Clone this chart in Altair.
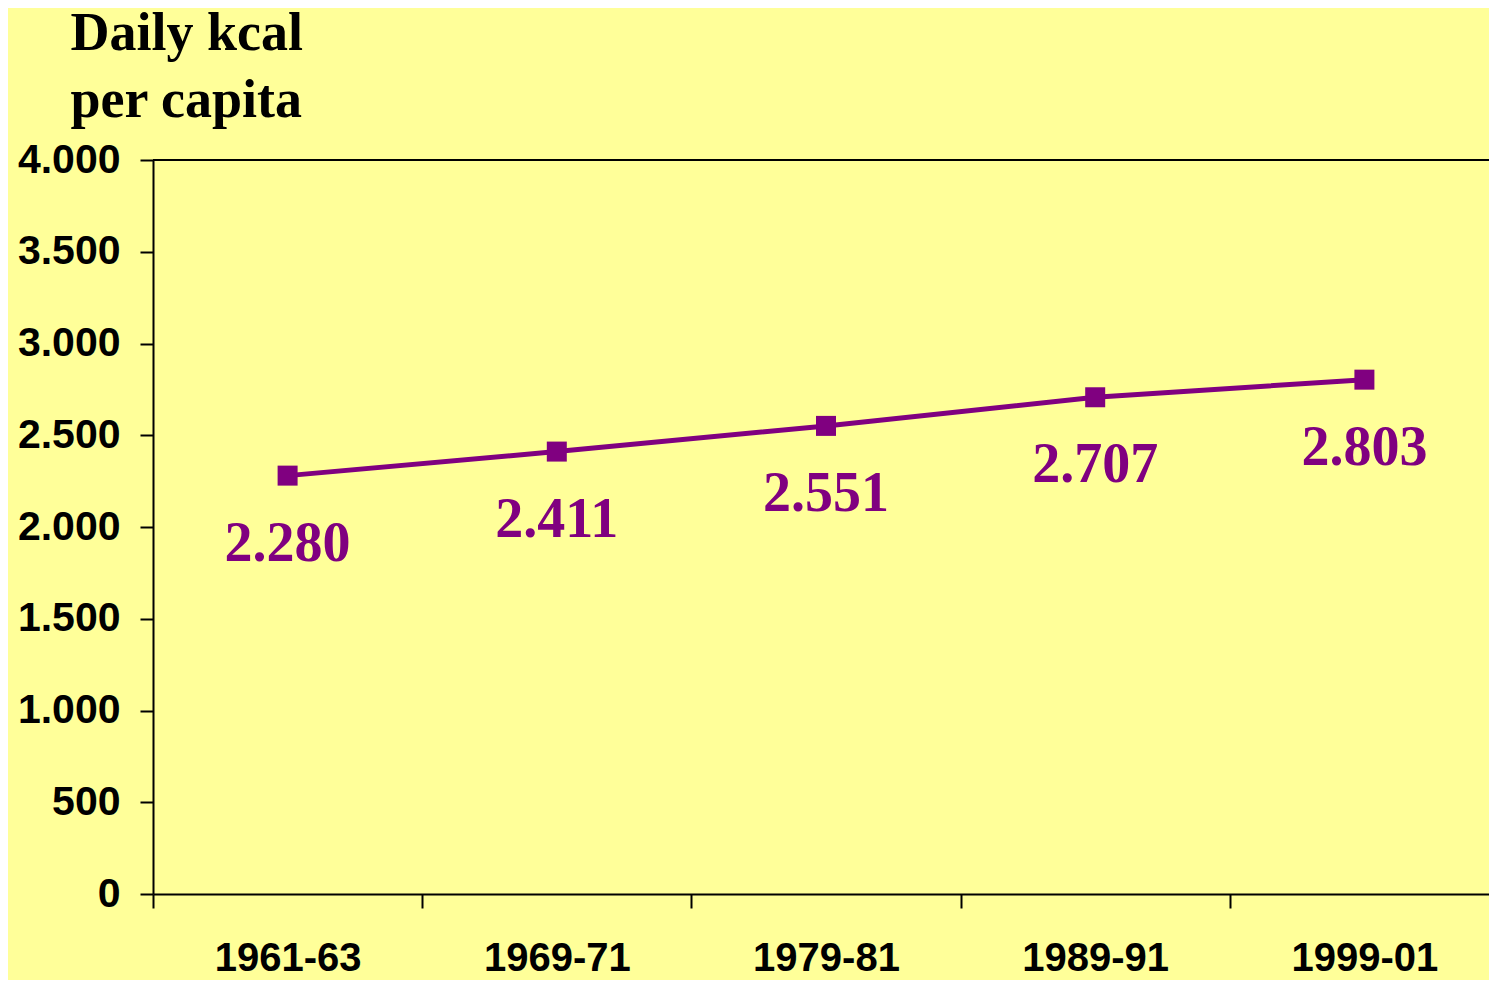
import altair as alt
import pandas as pd

periods = ["1961-63", "1969-71", "1979-81", "1989-91", "1999-01"]
kcal = [2280, 2411, 2551, 2707, 2803]
y_ticks = [0, 500, 1000, 1500, 2000, 2500, 3000, 3500, 4000]

df = pd.DataFrame({
    "period": periods,
    "kcal": kcal,
    "label": [f"{v:,}".replace(",", ".") for v in kcal],
})

purple = "#800080"
bg = "#FFFF99"

x_enc = alt.X(
    "period:N",
    sort=periods,
    scale=alt.Scale(paddingInner=0, paddingOuter=0, range=[0, 1346]),
    axis=alt.Axis(
        title=None,
        labelAngle=0,
        labelFont="Liberation Sans",
        labelFontWeight="bold",
        labelFontSize=40,
        labelColor="black",
        labelPadding=30,
        tickBand="extent",
        tickSize=14,
        tickWidth=2,
        tickColor="black",
        domainColor="black",
        domainWidth=2,
    ),
)

y_enc = alt.Y(
    "kcal:Q",
    scale=alt.Scale(domain=[0, 4000], nice=False, zero=True),
    axis=alt.Axis(
        values=y_ticks,
        labelExpr="replace(format(datum.value, ','), ',', '.')",
        title=["Daily kcal", "per capita"],
        titleAngle=0,
        titleAlign="left",
        titleBaseline="top",
        titleX=-83,
        titleY=-154,
        titleFont="Liberation Serif",
        titleFontSize=54,
        titleFontWeight="bold",
        titleColor="black",
        titleLineHeight=67,
        labelFont="Liberation Sans",
        labelFontWeight="bold",
        labelFontSize=41,
        labelColor="black",
        labelPadding=20,
        tickSize=13,
        tickWidth=2,
        tickColor="black",
        domainColor="black",
        domainWidth=2,
        grid=False,
    ),
)

base = alt.Chart(df)

line = base.mark_line(color=purple, strokeWidth=5).encode(x=x_enc, y=y_enc)
points = base.mark_point(
    shape="square", filled=True, size=400, color=purple, opacity=1
).encode(x="period:N", y="kcal:Q")
labels = base.mark_text(
    font="Liberation Serif",
    fontWeight="bold",
    fontSize=56,
    color=purple,
    baseline="alphabetic",
    align="center",
    dy=85,
).encode(x="period:N", y="kcal:Q", text="label:N")
top_rule = alt.Chart(pd.DataFrame({"v": [4000]})).mark_rule(
    color="black", strokeWidth=2
).encode(y="v:Q")

chart = (
    alt.layer(top_rule, line, points, labels)
    .properties(
        width=1336,
        height=734,
        background=bg,
        padding={"left": 145, "top": 152, "right": 0, "bottom": 86},
        autosize=alt.AutoSizeParams(type="none"),
    )
    .configure_view(stroke=None, fill=bg)
)

chart.save("out.html", embed_options={"renderer": "svg", "actions": False})
